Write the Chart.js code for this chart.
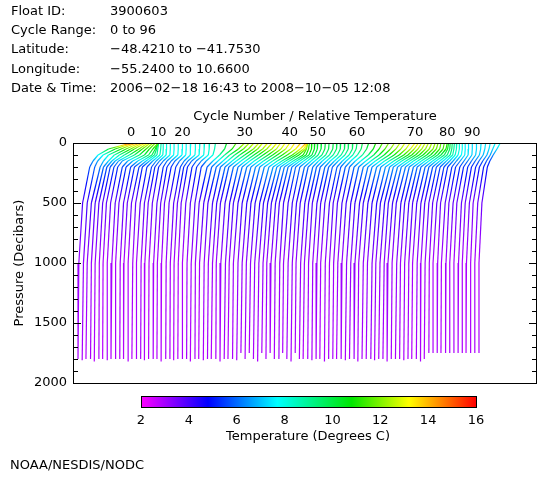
<!DOCTYPE html>
<html>
<head>
<meta charset="utf-8">
<script src="https://cdn.jsdelivr.net/npm/chart.js@4.4.1/dist/chart.umd.min.js"></script>
<style>
  body { margin: 0; background: #fff; }
  canvas { display: block; }
</style>
</head>
<body>
<canvas id="profiles" width="560" height="480"></canvas>
<script>
// one profile per cycle, drawn at x = cycle + temperature
const cycles = [0, 1, 2, 3, 4, 5, 6, 7, 8, 9, 10, 11, 12, 13, 14, 15, 16, 17, 18, 19,
  20, 21, 22, 23, 24, 25, 26, 27, 28, 29, 30, 31, 32, 33, 34, 35, 36, 37, 38, 39,
  40, 41, 42, 43, 44, 45, 46, 47, 48, 49, 50, 51, 52, 53, 54, 55, 56, 57, 58, 59,
  60, 61, 62, 63, 64, 65, 66, 67, 68, 69, 70, 71, 72, 73, 74, 75, 76, 77, 78, 79,
  80, 81, 82, 83, 84, 85, 86, 87, 88, 89, 90, 91, 92, 93, 94, 95, 96];

const pressLevels = [0, 50, 100, 150, 200, 500, 1000];

const tSurface = [15.6, 15.2, 14.8, 14.6, 14.3, 14.0, 13.6, 13.2, 12.8, 12.4,
  12.1, 11.0, 10.0, 9.2, 8.8,
  8.3, 8.1, 8.0, 7.9, 7.9, 7.9, 7.8, 7.9, 8.0, 8.1, 8.2, 8.4, 8.8,
  10.5, 11.8, 12.8, 12.9, 13.0, 13.2, 13.1, 13.3, 13.4, 13.5, 13.4, 13.5, 13.6, 13.8, 14.2, 14.5, 13.8, 12.8,
  11.9, 11.3, 10.9, 10.6, 10.3, 10.2, 10.1, 10.0, 10.0, 9.9, 9.8, 9.8, 9.7, 9.7, 9.7, 10.0, 10.5,
  11.2, 11.8, 12.3, 12.7, 13.0, 13.2, 13.4, 13.6, 13.4, 13.2, 13.0, 12.8, 12.6, 12.4, 12.1, 11.8, 11.6, 11.3,
  10.6, 10.0, 9.5, 9.0, 8.6, 8.2, 7.9, 7.6, 7.4, 7.3, 7.3, 7.4, 7.5, 7.6, 7.8, 8.0];

const t50 = [10.2, 10.8, 11.2, 11.4, 11.5, 11.4, 11.5, 11.3, 11.2, 11.0,
  10.8, 10.4, 9.7, 9.0, 8.7,
  8.3, 8.1, 8.0, 7.9, 7.9, 7.9, 7.8, 7.8, 8.0, 8.0, 8.1, 8.3, 8.6,
  10.0, 10.8, 11.3, 11.5, 11.7, 11.9, 11.9, 12.1, 12.1, 12.3, 12.4, 12.5, 12.6, 12.8, 13.0, 13.1, 12.9, 12.4,
  11.6, 11.1, 10.8, 10.5, 10.2, 10.1, 10.0, 9.9, 9.9, 9.8, 9.7, 9.7, 9.6, 9.6, 9.5, 9.7, 10.0,
  10.6, 11.0, 11.4, 11.7, 12.0, 12.2, 12.4, 12.5, 12.4, 12.3, 12.2, 12.1, 12.0, 11.9, 11.7, 11.5, 11.3, 11.0,
  10.4, 9.9, 9.4, 8.9, 8.5, 8.2, 7.9, 7.6, 7.4, 7.3, 7.3, 7.3, 7.3, 7.3, 7.2, 7.2];

const t100 = [7.7, 7.9, 8.2, 8.6, 8.8, 9.0, 9.2, 9.4, 9.6, 9.8,
  9.8, 9.6, 9.2, 8.8, 8.5,
  8.2, 8.0, 7.9, 7.8, 7.8, 7.8, 7.7, 7.8, 7.9, 7.9, 8.0, 8.1, 8.2,
  8.8, 9.0, 9.2, 9.4, 9.6, 9.8, 9.9, 10.0, 10.1, 10.2, 10.4, 10.5, 10.6, 10.8, 11.0, 11.2, 11.0, 10.8,
  10.8, 10.5, 10.2, 9.9, 9.6, 9.4, 9.3, 9.2, 9.1, 9.0, 9.0, 8.9, 8.8, 8.8, 8.7, 8.8, 9.0,
  9.4, 9.7, 10.0, 10.2, 10.4, 10.6, 10.8, 10.9, 10.9, 10.8, 10.7, 10.6, 10.5, 10.4, 10.3, 10.2, 10.0, 9.8,
  9.6, 9.3, 9.0, 8.6, 8.2, 7.9, 7.7, 7.5, 7.3, 7.2, 7.1, 7.0, 6.9, 6.8, 6.6, 6.3];

const t150 = [6.5, 6.6, 7.0, 7.2, 7.0, 6.8, 6.6, 6.5, 6.8, 7.0,
  7.2, 7.3, 7.2, 7.0, 6.8,
  6.6, 6.4, 6.3, 6.2, 6.2, 6.1, 6.2, 6.3, 6.2, 6.1, 6.2, 6.4, 6.6,
  7.2, 7.4, 7.6, 7.7, 7.8, 7.8, 7.9, 8.0, 8.0, 8.1, 8.2, 8.3, 8.4, 8.5, 8.6, 8.7, 8.6, 8.5,
  8.4, 8.2, 8.0, 7.9, 7.8, 7.7, 7.6, 7.5, 7.4, 7.4, 7.3, 7.3, 7.2, 7.2, 7.1, 7.2, 7.3,
  7.6, 7.8, 8.0, 8.1, 8.2, 8.3, 8.4, 8.5, 8.5, 8.4, 8.4, 8.3, 8.2, 8.2, 8.1, 8.0, 7.9, 7.8,
  7.6, 7.5, 7.3, 7.1, 6.9, 6.7, 6.5, 6.4, 6.3, 6.2, 6.1, 6.0, 5.9, 5.8, 5.7, 5.5];

const t200 = [5.7, 5.9, 6.2, 6.0, 5.8, 5.6, 5.5, 5.4, 5.5, 5.4,
  5.5, 5.4, 5.5, 5.3, 5.4,
  5.5, 5.3, 5.2, 5.3, 5.2, 5.2, 5.3, 5.4, 5.2, 5.1, 5.2, 5.3, 5.4,
  5.8, 5.9, 6.0, 6.0, 6.1, 6.0, 6.1, 6.2, 6.2, 6.3, 6.3, 6.4, 6.4, 6.5, 6.6, 6.6, 6.5, 6.4,
  6.3, 6.2, 6.1, 6.0, 6.0, 6.1, 6.0, 6.1, 6.0, 5.9, 6.0, 5.9, 5.8, 5.9, 5.8, 5.9, 5.9,
  6.0, 6.1, 6.2, 6.3, 6.3, 6.4, 6.4, 6.5, 6.5, 6.4, 6.4, 6.3, 6.3, 6.2, 6.2, 6.1, 6.0, 6.0,
  5.9, 5.8, 5.7, 5.6, 5.5, 5.4, 5.4, 5.3, 5.3, 5.2, 5.2, 5.1, 5.1, 5.0, 5.0, 4.9];

const t500 = [4.0, 4.1, 4.1, 4.0, 3.9, 3.8, 3.7, 3.7, 3.8, 3.7,
  3.8, 3.7, 3.7, 3.7, 3.8,
  3.8, 3.7, 3.7, 3.8, 3.7, 3.6, 3.7, 3.8, 3.7, 3.6, 3.7, 3.8, 3.9,
  3.9, 4.0, 4.0, 4.1, 4.1, 4.0, 4.1, 4.2, 4.1, 4.2, 4.2, 4.3, 4.3, 4.3, 4.4, 4.3, 4.3, 4.2,
  4.2, 4.1, 4.1, 4.2, 4.2, 4.2, 4.1, 4.2, 4.1, 4.0, 4.1, 4.0, 4.0, 4.1, 4.0, 4.0, 4.1,
  4.1, 4.2, 4.2, 4.3, 4.2, 4.3, 4.3, 4.4, 4.3, 4.3, 4.2, 4.2, 4.1, 4.2, 4.1, 4.1, 4.0, 4.0,
  4.0, 3.9, 3.9, 3.8, 3.8, 3.7, 3.8, 3.7, 3.7, 3.6, 3.7, 3.6, 3.6, 3.5, 3.6, 3.6];

const t1000 = [3.1, 3.2, 3.1, 3.1, 3.0, 3.0, 2.9, 2.9, 3.0, 2.9,
  3.0, 2.9, 2.9, 3.0, 2.9,
  3.0, 2.9, 2.9, 3.0, 2.9, 2.9, 3.0, 3.0, 2.9, 2.9, 2.9, 3.0, 3.0,
  3.0, 3.0, 3.1, 3.1, 3.1, 3.0, 3.1, 3.2, 3.1, 3.1, 3.2, 3.2, 3.2, 3.2, 3.2, 3.2, 3.2, 3.1,
  3.1, 3.1, 3.2, 3.1, 3.2, 3.2, 3.1, 3.2, 3.1, 3.1, 3.1, 3.1, 3.0, 3.1, 3.1, 3.1, 3.1,
  3.1, 3.2, 3.2, 3.2, 3.1, 3.2, 3.2, 3.3, 3.2, 3.2, 3.2, 3.1, 3.1, 3.2, 3.1, 3.1, 3.1, 3.0,
  3.1, 3.0, 3.0, 3.0, 2.9, 3.0, 2.9, 3.0, 2.9, 2.9, 3.0, 2.9, 2.9, 2.9, 2.9, 2.9];

const tBottom = [2.9, 2.9, 2.8, 2.9, 2.8, 2.9, 2.8, 2.9, 2.8, 2.9,
  2.9, 2.8, 2.9, 2.8, 2.9,
  2.9, 2.8, 2.8, 2.9, 2.8, 2.8, 2.9, 2.9, 2.8, 2.8, 2.9, 2.9, 2.8,
  2.9, 2.8, 2.9, 2.9, 2.8, 2.9, 2.9, 2.9, 2.8, 2.9, 2.9, 2.9, 2.9, 2.9, 2.9, 2.9, 2.9, 2.9,
  2.9, 2.9, 3.0, 2.9, 2.9, 2.9, 2.9, 2.9, 2.8, 2.9, 2.9, 2.9, 2.8, 2.9, 2.9, 2.9, 2.8,
  2.9, 2.9, 2.9, 3.0, 2.9, 2.9, 2.9, 3.0, 2.9, 2.9, 2.9, 2.9, 2.9, 2.9, 2.9, 2.9, 2.9, 2.8,
  2.9, 2.9, 2.8, 2.9, 2.9, 2.9, 2.8, 2.9, 2.9, 2.9, 2.9, 2.9, 2.8, 2.9, 2.9, 2.9];

const pBottom = [1800, 1810, 1800, 1800, 1820, 1800, 1800, 1810, 1800, 1800,
  1800, 1800, 1820, 1800, 1800,
  1800, 1810, 1800, 1800, 1800, 1820, 1800, 1800, 1810, 1800, 1800, 1800, 1820,
  1800, 1800, 1810, 1800, 1800, 1800, 1820, 1800, 1800, 1800, 1810, 1750, 1800, 1750, 1800, 1820, 1750, 1800,
  1750, 1800, 1800, 1750, 1800, 1820, 1750, 1800, 1800, 1800, 1810, 1800, 1800, 1820, 1800, 1800, 1800,
  1800, 1810, 1800, 1800, 1820, 1800, 1800, 1800, 1810, 1800, 1800, 1820, 1800, 1800, 1800, 1810, 1800, 1800,
  1800, 1820, 1800, 1750, 1750, 1750, 1750, 1750, 1750, 1750, 1750, 1750, 1750, 1750, 1750, 1750];

const labelCycles = [0, 10, 20, 30, 40, 50, 60, 70, 80, 90];
const colorbarTicks = [2, 4, 6, 8, 10, 12, 14, 16];
const yTicks = [0, 500, 1000, 1500, 2000];

const header = [
    ['Float ID:', '3900603'],
    ['Cycle Range:', '0 to 96'],
    ['Latitude:', '\u221248.4210 to \u221241.7530'],
    ['Longitude:', '\u221255.2400 to 10.6600'],
    ['Date & Time:', '2006\u221202\u221218 16:43 to 2008\u221210\u221205 12:08']
];

// colour table of the temperature bar
const cmapT = [2, 4.8, 7.7, 10.8, 13.2, 16];
const cmapRGB = [[255, 0, 255], [0, 0, 255], [0, 255, 255], [0, 230, 0], [255, 255, 0], [255, 0, 0]];

function tempColor(t) {
    let i = 1;
    while (i < cmapT.length - 1 && t > cmapT[i]) i++;
    let f = (t - cmapT[i - 1]) / (cmapT[i] - cmapT[i - 1]);
    f = Math.max(0, Math.min(1, f));
    const a = cmapRGB[i - 1], b = cmapRGB[i];
    const c = a.map((v, k) => Math.round(v + (b[k] - v) * f));
    return 'rgb(' + c.join(',') + ')';
}

const levelTemps = [tSurface, t50, t100, t150, t200, t500, t1000];
const profiles = cycles.map((c, i) => ({
    temps: levelTemps.map(arr => arr[i]).concat(tBottom[i]),
    press: pressLevels.concat(pBottom[i])
}));

function segColor(ctx) {
    const pr = profiles[ctx.datasetIndex];
    const ta = pr.temps[ctx.p0DataIndex], tb = pr.temps[ctx.p1DataIndex];
    const {p0, p1} = ctx;
    if (![p0.x, p0.y, p1.x, p1.y].every(Number.isFinite)) return tempColor((ta + tb) / 2);
    const g = ctx.chart.ctx.createLinearGradient(p0.x, p0.y, p1.x, p1.y);
    for (let s = 0; s <= 4; s++) g.addColorStop(s / 4, tempColor(ta + (tb - ta) * s / 4));
    return g;
}

const datasets = profiles.map((pr, i) => ({
    data: pr.press.map((p, k) => ({x: cycles[i] + pr.temps[k], y: p})),
    showLine: true,
    borderWidth: 1.2,
    pointRadius: 0,
    borderColor: tempColor(3),
    segment: {borderColor: segColor}
}));

const FONT = '13px "DejaVu Sans"';

const decorations = {
    id: 'decorations',
    afterDraw(chart) {
        const {ctx, chartArea: a, scales} = chart;
        ctx.save();
        ctx.strokeStyle = '#000';
        ctx.lineWidth = 1;
        ctx.strokeRect(a.left + 0.5, a.top + 0.5, a.right - a.left, a.bottom - a.top);

        // inward ticks on both pressure axes
        ctx.beginPath();
        for (let p = 0; p <= 2000; p += 100) {
            const y = Math.round(scales.y.getPixelForValue(p)) + 0.5;
            const len = p % 500 === 0 ? 8 : 5;
            ctx.moveTo(a.left, y);
            ctx.lineTo(a.left + len, y);
            ctx.moveTo(a.right + 1, y);
            ctx.lineTo(a.right + 1 - len, y);
        }
        ctx.stroke();

        ctx.fillStyle = '#000';
        ctx.font = FONT;
        ctx.textBaseline = 'middle';
        ctx.textAlign = 'left';
        const rowY = [12, 31, 50, 70, 89];
        header.forEach((row, i) => {
            ctx.fillText(row[0], 11, rowY[i]);
            ctx.fillText(row[1], 110, rowY[i]);
        });
        ctx.fillText('NOAA/NESDIS/NODC', 10, 466);

        ctx.textAlign = 'center';
        ctx.fillText('Cycle Number / Relative Temperature', 315, 117);

        // colour bar
        const bx0 = 141, bx1 = 476, by = 396, bh = 11;
        const grad = ctx.createLinearGradient(bx0, 0, bx1, 0);
        cmapT.forEach((t, i) => grad.addColorStop((t - 2) / 14, 'rgb(' + cmapRGB[i].join(',') + ')'));
        ctx.fillStyle = grad;
        ctx.fillRect(bx0, by, bx1 - bx0, bh);
        ctx.strokeRect(bx0 + 0.5, by + 0.5, bx1 - bx0, bh);
        ctx.fillStyle = '#000';
        colorbarTicks.forEach(t => {
            ctx.fillText(String(t), bx0 + (t - 2) / 14 * (bx1 - bx0), 421);
        });
        ctx.fillText('Temperature (Degrees C)', 308, 437);
        ctx.restore();
    }
};

Chart.defaults.font.family = '"DejaVu Sans"';
Chart.defaults.font.size = 13;
Chart.defaults.color = '#000';

new Chart(document.getElementById('profiles').getContext('2d'), {
    type: 'scatter',
    data: {datasets},
    options: {
        responsive: false,
        animation: false,
        devicePixelRatio: 1,
        layout: {padding: {left: 0, top: 0, right: 24, bottom: 97}},
        plugins: {legend: {display: false}, tooltip: {enabled: false}},
        scales: {
            x: {
                type: 'linear',
                position: 'top',
                min: 1.7,
                max: 112.55,
                grid: {display: false, drawTicks: false},
                border: {display: false},
                afterFit: s => { s.height = 143; },
                afterBuildTicks: s => {
                    s.ticks = labelCycles.map(c => ({value: c + tSurface[c]}));
                },
                ticks: {
                    autoSkip: false,
                    maxRotation: 0,
                    padding: 3,
                    callback: (v, i) => String(labelCycles[i])
                }
            },
            y: {
                type: 'linear',
                reverse: true,
                min: 0,
                max: 2000,
                grid: {display: false, drawTicks: false},
                border: {display: false},
                afterFit: s => { s.width = 73; },
                afterBuildTicks: s => { s.ticks = yTicks.map(v => ({value: v})); },
                ticks: {padding: 6, callback: v => String(v)},
                title: {display: true, text: 'Pressure (Decibars)', padding: {top: 12, bottom: 0}}
            }
        }
    },
    plugins: [decorations]
});
</script>
</body>
</html>
